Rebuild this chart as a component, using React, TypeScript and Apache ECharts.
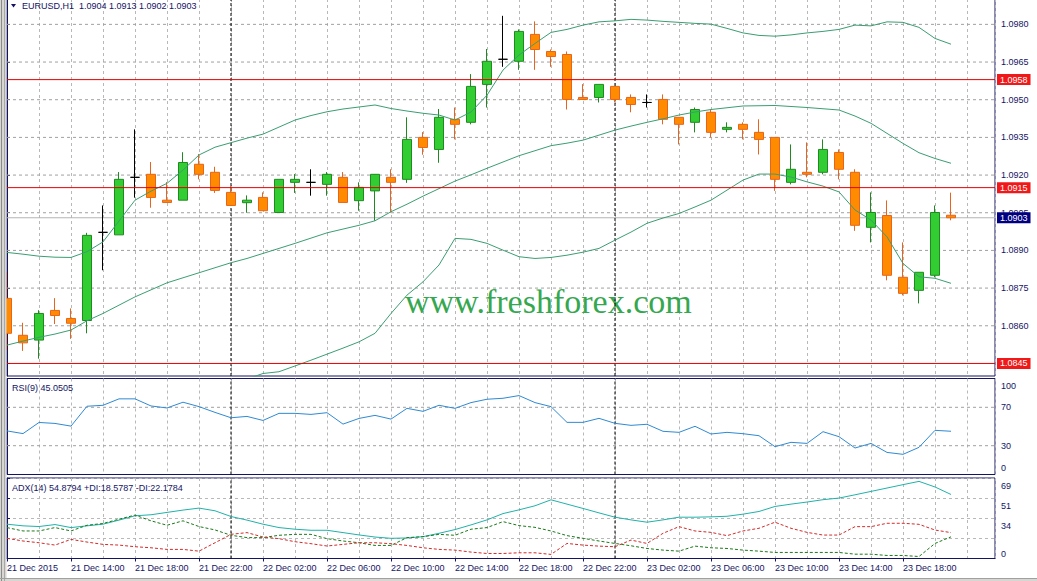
import React, { useEffect, useRef } from 'react';
import * as echarts from 'echarts';

// ---------- data ----------
const symbolName = 'EURUSD,H1';
const timeLabels = [
  '21 Dec 2015', '21 Dec 14:00', '21 Dec 18:00', '21 Dec 22:00', '22 Dec 02:00',
  '22 Dec 06:00', '22 Dec 10:00', '22 Dec 14:00', '22 Dec 18:00', '22 Dec 22:00',
  '23 Dec 02:00', '23 Dec 06:00', '23 Dec 10:00', '23 Dec 14:00', '23 Dec 18:00',
];
const BARS_PER_LABEL = 4;

const opens = [
  1.08709, 1.08562, 1.08543, 1.08661, 1.08629, 1.08621, 1.08972, 1.08962, 1.09191, 1.09203,
  1.09100, 1.09100, 1.09243, 1.09211, 1.09131, 1.09090, 1.09111, 1.09051, 1.09171, 1.09171,
  1.09163, 1.09191, 1.09098, 1.09137, 1.09191, 1.09183, 1.09350, 1.09302, 1.09422, 1.09410,
  1.09561, 1.09661, 1.09653, 1.09760, 1.09692, 1.09680, 1.09509, 1.09509, 1.09553, 1.09509,
  1.09489, 1.09501, 1.09430, 1.09410, 1.09450, 1.09382, 1.09402, 1.09370, 1.09350, 1.09171,
  1.09211, 1.09211, 1.09290, 1.09211, 1.08992, 1.09039, 1.08793, 1.08741, 1.08801, 1.0904,
];
const closes = [
  1.08570, 1.08532, 1.08649, 1.08641, 1.08610, 1.08960, 1.08972, 1.09183, 1.09191, 1.09111,
  1.09091, 1.09250, 1.09203, 1.09139, 1.09079, 1.09100, 1.09058, 1.09183, 1.09183, 1.09171,
  1.09203, 1.09091, 1.09151, 1.09203, 1.09171, 1.09342, 1.09310, 1.09430, 1.09402, 1.09553,
  1.09653, 1.09661, 1.09772, 1.09700, 1.09672, 1.09501, 1.09501, 1.09561, 1.09501, 1.09481,
  1.09489, 1.09422, 1.09402, 1.09461, 1.09370, 1.09390, 1.09382, 1.09342, 1.09183, 1.09223,
  1.09203, 1.09302, 1.09223, 1.09000, 1.09051, 1.08801, 1.08729, 1.08813, 1.09051, 1.0903,
];
const lows = [
  1.08503, 1.08500, 1.08469, 1.08607, 1.08548, 1.08570, 1.08821, 1.08962, 1.09110, 1.09070,
  1.09091, 1.09100, 1.09183, 1.09129, 1.09079, 1.09050, 1.09058, 1.09051, 1.09129, 1.09118,
  1.09118, 1.09091, 1.09058, 1.09018, 1.09051, 1.09169, 1.09281, 1.09249, 1.09342, 1.09402,
  1.09469, 1.09631, 1.09619, 1.09619, 1.09631, 1.09461, 1.09501, 1.09489, 1.09489, 1.09450,
  1.09469, 1.09402, 1.09322, 1.09370, 1.09350, 1.09370, 1.09342, 1.09282, 1.09137, 1.09163,
  1.09191, 1.09203, 1.09183, 1.08978, 1.08932, 1.08781, 1.08721, 1.08689, 1.08793, 1.0902,
];
const highs = [
  1.08813, 1.08612, 1.08662, 1.08710, 1.08669, 1.08970, 1.09079, 1.09212, 1.09382, 1.09252,
  1.09172, 1.09291, 1.09284, 1.09233, 1.09156, 1.09119, 1.09131, 1.09183, 1.09204, 1.09223,
  1.09212, 1.09212, 1.09171, 1.09203, 1.09223, 1.09430, 1.09371, 1.09463, 1.09469, 1.09602,
  1.09702, 1.09834, 1.09780, 1.09812, 1.09700, 1.09692, 1.09562, 1.09561, 1.09553, 1.09521,
  1.09521, 1.09521, 1.09430, 1.09469, 1.09461, 1.09410, 1.09410, 1.09422, 1.09350, 1.09322,
  1.09330, 1.09342, 1.09302, 1.09223, 1.09131, 1.09099, 1.08932, 1.08813, 1.09079, 1.0913,
];

const bbUpper = [
  1.08892, 1.08885, 1.08877, 1.08873, 1.08872, 1.08895, 1.08934, 1.09017, 1.09100, 1.09136,
  1.09167, 1.09220, 1.09280, 1.09311, 1.09329, 1.09347, 1.09363, 1.09391, 1.09419, 1.09437,
  1.09452, 1.09463, 1.09471, 1.09479, 1.09465, 1.09455, 1.09446, 1.09439, 1.09419, 1.09451,
  1.09518, 1.09618, 1.09678, 1.09724, 1.09768, 1.09780, 1.09797, 1.09810, 1.09814, 1.09820,
  1.09817, 1.09812, 1.09808, 1.09804, 1.09801, 1.09784, 1.09766, 1.09756, 1.09753, 1.09758,
  1.09766, 1.09772, 1.09780, 1.09797, 1.09794, 1.09810, 1.09808, 1.09788, 1.09744, 1.09721,
];
const bbMiddle = [
  1.08523, 1.08539, 1.08554, 1.08567, 1.08583, 1.08620, 1.08649, 1.08682, 1.08715, 1.08743,
  1.08771, 1.08791, 1.08811, 1.08831, 1.08851, 1.08868, 1.08888, 1.08908, 1.08928, 1.08949,
  1.08970, 1.08985, 1.09000, 1.09018, 1.09054, 1.09084, 1.09116, 1.09146, 1.09176, 1.09201,
  1.09227, 1.09252, 1.09277, 1.09297, 1.09317, 1.09327, 1.09339, 1.09359, 1.09379, 1.09395,
  1.09410, 1.09424, 1.09439, 1.09451, 1.09461, 1.09468, 1.09475, 1.09476, 1.09477, 1.09473,
  1.09469, 1.09464, 1.09459, 1.09435, 1.09406, 1.09366, 1.09326, 1.09289, 1.09266, 1.09247,
];
const bbLower = [
  1.08154, 1.08193, 1.08230, 1.08260, 1.08294, 1.08344, 1.08364, 1.08348, 1.08331, 1.08350,
  1.08376, 1.08362, 1.08342, 1.08350, 1.08373, 1.08388, 1.08410, 1.08417, 1.08440, 1.08463,
  1.08487, 1.08511, 1.08536, 1.08570, 1.08649, 1.08722, 1.08775, 1.08842, 1.08948, 1.08944,
  1.08928, 1.08901, 1.08875, 1.08868, 1.08872, 1.08881, 1.08893, 1.08908, 1.08941, 1.08973,
  1.09008, 1.09029, 1.09047, 1.09073, 1.09100, 1.09140, 1.09180, 1.09204, 1.09204, 1.09192,
  1.09173, 1.09156, 1.09133, 1.09061, 1.09021, 1.08954, 1.08848, 1.08795, 1.08789, 1.08769,
];

const rsi = [
  45.4, 42.6, 54.2, 53.2, 50.4, 71.1, 72.1, 78.8, 78.8, 71.4,
  69.3, 75.3, 70.7, 64.7, 59.1, 60.5, 56.3, 63.7, 63.7, 62.6,
  64.4, 52.5, 58.4, 61.6, 57.7, 68.9, 65.8, 72.1, 68.9, 74.9,
  78.4, 79.4, 82.2, 74.9, 70.7, 54.3, 54.3, 58.5, 53.3, 51.2,
  52.3, 45.0, 43.9, 50.2, 42.2, 43.9, 42.5, 40.4, 29.0, 33.5,
  32.4, 44.6, 39.4, 27.6, 32.4, 23.0, 21.0, 28.3, 46.0, 45.0505,
];
const adx = [
  29.4, 28.0, 27.4, 29.1, 26.5, 28.0, 29.4, 32.9, 36.6, 37.5,
  39.5, 41.5, 43.2, 40.9, 36.0, 32.9, 29.4, 26.5, 25.1, 24.2,
  24.2, 22.2, 20.2, 18.4, 17.3, 17.6, 18.7, 21.6, 24.8, 28.8,
  33.1, 38.5, 41.7, 45.2, 50.3, 46.6, 42.9, 39.1, 35.4, 33.1,
  31.1, 33.1, 35.4, 35.4, 35.7, 36.2, 38.0, 40.3, 44.6, 46.6,
  48.4, 50.4, 51.8, 54.6, 57.5, 60.4, 63.3, 66.1, 61.3, 54.8794,
];
const plusDI = [
  26.5, 23.6, 23.6, 26.5, 23.6, 28.5, 30.0, 33.7, 37.2, 32.3,
  28.5, 32.3, 27.4, 24.5, 19.9, 17.9, 17.9, 19.9, 20.7, 20.7,
  17.0, 15.0, 13.5, 11.2, 11.2, 17.9, 18.7, 20.7, 19.9, 25.1,
  26.5, 31.6, 28.2, 26.7, 23.6, 19.6, 17.3, 15.0, 12.9, 10.9,
  8.6, 7.2, 6.3, 10.6, 9.2, 8.6, 7.2, 6.3, 5.2, 5.2,
  5.2, 5.2, 5.2, 3.7, 3.7, 2.6, 2.6, 1.7, 12.9, 18.5787,
];
const minusDI = [
  17.3, 15.0, 13.5, 11.5, 16.4, 14.1, 12.1, 11.5, 10.1, 9.2,
  7.8, 7.8, 6.3, 13.5, 20.7, 22.2, 18.4, 17.0, 14.4, 12.7,
  10.7, 12.1, 13.5, 13.5, 12.7, 11.2, 9.2, 7.8, 7.2, 5.5,
  4.3, 4.3, 4.9, 4.9, 3.5, 12.9, 11.5, 10.6, 10.1, 15.8,
  12.9, 21.6, 27.3, 23.6, 22.4, 19.6, 23.6, 25.9, 31.1, 25.9,
  22.4, 20.1, 20.1, 27.3, 27.3, 30.2, 30.2, 29.3, 24.4, 22.1784,
];

const priceTicks = [1.0845, 1.0860, 1.0875, 1.0890, 1.0905, 1.0920, 1.0935, 1.0950, 1.0965, 1.0980];
const priceGridLines = [1.0860, 1.0875, 1.0890, 1.0905, 1.0920, 1.0935, 1.0950, 1.0965, 1.0980];
const levelLines = [1.0958, 1.0915, 1.0845];
const bidPrice = 1.0903;
const PRICE_MIN = 1.0840;
const PRICE_MAX = 1.09901;
const rsiTicks = [0, 30, 70, 100];
const rsiLevels = [30, 70];
const adxTickLabels = ['0', '17', '34', '51', '69'];
const ADX_MAX = 69;
const daySeparators = [14, 38];

// ---------- styles ----------
const NAVY = '#141464';
const GRID_COLOR = '#b8b8b8';
const HGRID_COLOR = '#a0a0a0';
const SEP_COLOR = '#000000';
const LEVEL_COLOR = '#e40000';
const FONT = '"Liberation Sans", Arial, sans-serif';
const X_MAX = 61.75;
const LEFT = 7;
const RIGHT = 42;

const fmt4 = (v: number) => v.toFixed(4);

function App() {
  const ref = useRef<HTMLDivElement>(null);

  useEffect(() => {
    if (!ref.current) return;
    const chart = echarts.init(ref.current, null, { renderer: 'svg' });

    const candleData = opens.map((o, i) => [i, o, closes[i], lows[i], highs[i]]);
    const toXY = (arr: number[]) => arr.map((v, i) => [i, v]);

    const xGridAxis = (gridIndex: number) => ({
      type: 'value',
      gridIndex,
      min: 0,
      max: X_MAX,
      interval: 2,
      position: 'bottom',
      axisLine: { show: false },
      axisTick: { show: false },
      axisLabel: { show: false },
      splitLine: { show: true, lineStyle: { color: GRID_COLOR, type: [3, 3], width: 1 } },
    });

    const axisText = { fontSize: 9, color: NAVY, fontFamily: FONT };

    // horizontal reference line drawn as a 2-point line series spanning the x range
    const hLine = (name: string, gi: number, v: number, color: string, type: any, z: number, labelBg?: string) => ({
      name,
      type: 'line',
      xAxisIndex: gi,
      yAxisIndex: gi,
      data: [[0, v], [X_MAX, v]],
      symbol: 'none',
      silent: true,
      z,
      lineStyle: { color, type, width: 1 },
      emphasis: { disabled: true },
      endLabel: labelBg
        ? {
            show: true,
            formatter: () => fmt4(v),
            backgroundColor: labelBg,
            color: '#ffffff',
            padding: [1, 3, 1, 3],
            distance: 2,
            fontSize: 9,
            fontFamily: FONT,
          }
        : { show: false },
    });
    // vertical day separator drawn as a 2-point line series spanning the y range
    const vLine = (name: string, gi: number, x: number, y0: number, y1: number) => ({
      name,
      type: 'line',
      xAxisIndex: gi,
      yAxisIndex: gi,
      data: [[x, y0], [x, y1]],
      symbol: 'none',
      silent: true,
      z: 1,
      lineStyle: { color: SEP_COLOR, type: [3, 2], width: 1 },
      emphasis: { disabled: true },
    });

    const labelTickValues = timeLabels.map((_, k) => k * BARS_PER_LABEL);

    const last = opens.length - 1;
    const titleMain = `${symbolName}\u00a0\u00a0${fmt4(opens[last])} ${fmt4(highs[last])} ${fmt4(lows[last])} ${fmt4(closes[last])}`;
    const titleRsi = `RSI(9) ${rsi[last].toFixed(4)}`;
    const titleAdx = `ADX(14) ${adx[last].toFixed(4)} +DI:${plusDI[last].toFixed(4)} -DI:${minusDI[last].toFixed(4)}`;

    const lineSeries = (name: string, gi: number, arr: number[], color: string, type: any = 'solid') => ({
      name,
      type: 'line',
      xAxisIndex: gi,
      yAxisIndex: gi,
      data: toXY(arr),
      symbol: 'none',
      silent: true,
      z: 3,
      lineStyle: { color, width: 1, type },
      emphasis: { disabled: true },
    });

    const option: any = {
      animation: false,
      backgroundColor: '#ffffff',
      textStyle: { fontFamily: FONT },
      grid: [
        { left: LEFT, right: RIGHT, top: -1, height: 377, show: true, borderColor: NAVY, borderWidth: 1, backgroundColor: 'transparent', outerBoundsMode: 'none', containLabel: false },
        { left: LEFT, right: RIGHT, top: 378.5, height: 96, show: true, borderColor: NAVY, borderWidth: 1, backgroundColor: 'transparent', outerBoundsMode: 'none', containLabel: false },
        { left: LEFT, right: RIGHT, top: 478, height: 80.5, show: true, borderColor: NAVY, borderWidth: 1, backgroundColor: 'transparent', outerBoundsMode: 'none', containLabel: false },
      ],
      xAxis: [
        xGridAxis(0),
        xGridAxis(1),
        xGridAxis(2),
        {
          type: 'value',
          gridIndex: 2,
          min: 0,
          max: X_MAX,
          interval: BARS_PER_LABEL,
          position: 'bottom',
          axisLine: { show: true, lineStyle: { color: NAVY, width: 1 } },
          axisTick: { show: true, length: 3, customValues: labelTickValues, lineStyle: { color: NAVY } },
          axisLabel: {
            show: true,
            customValues: labelTickValues,
            align: 'left',
            margin: 5,
            ...axisText,
            formatter: (v: number) => {
              const k = Math.round(v / BARS_PER_LABEL);
              return Math.abs(v - k * BARS_PER_LABEL) < 1e-6 && k < timeLabels.length ? timeLabels[k] : '';
            },
          },
          splitLine: { show: false },
        },
      ],
      yAxis: [
        {
          type: 'value',
          gridIndex: 0,
          position: 'right',
          min: PRICE_MIN,
          max: PRICE_MAX,
          axisLine: { show: true, lineStyle: { color: NAVY } },
          axisTick: { show: true, length: 3, customValues: priceTicks, lineStyle: { color: NAVY } },
          axisLabel: { show: true, customValues: priceTicks, margin: 6, ...axisText, formatter: (v: number) => fmt4(v) },
          splitLine: { show: false },
        },
        {
          type: 'value',
          gridIndex: 1,
          position: 'right',
          min: 0,
          max: 100,
          axisLine: { show: true, lineStyle: { color: NAVY } },
          axisTick: { show: true, length: 3, customValues: rsiTicks, lineStyle: { color: NAVY } },
          axisLabel: {
            show: true,
            customValues: rsiTicks,
            margin: 6,
            showMinLabel: true,
            showMaxLabel: true,
            hideOverlap: false,
            ...axisText,
            formatter: (v: number) => {
              if (v >= 100) return `{d|${v}}`;
              if (v <= 0) return `{u|${v}}`;
              return `{m|${v}}`;
            },
            rich: {
              d: { ...axisText, padding: [15, 0, 0, 0] },
              u: { ...axisText, padding: [0, 0, 13, 0] },
              m: { ...axisText },
            },
          },
          splitLine: { show: false },
        },
        {
          type: 'value',
          gridIndex: 2,
          position: 'right',
          min: 0,
          max: ADX_MAX,
          interval: ADX_MAX / (adxTickLabels.length - 1),
          axisLine: { show: true, lineStyle: { color: NAVY } },
          axisTick: { show: true, length: 3, lineStyle: { color: NAVY } },
          axisLabel: {
            show: true,
            margin: 6,
            showMinLabel: true,
            showMaxLabel: true,
            hideOverlap: false,
            ...axisText,
            formatter: (v: number) => {
              const k = Math.round(v / (ADX_MAX / (adxTickLabels.length - 1)));
              const t = adxTickLabels[k] ?? '';
              return k === 0 ? `{u|${t}}` : `{d|${t}}`;
            },
            rich: {
              d: { ...axisText, padding: [16, 0, 0, 0] },
              u: { ...axisText, padding: [0, 0, 9, 0] },
            },
          },
          splitLine: { show: true, lineStyle: { color: GRID_COLOR, type: [3, 3], width: 1 } },
        },
      ],
      series: [
        ...priceGridLines.map((p, k) => hLine(`grid ${k}`, 0, p, HGRID_COLOR, [3, 3], 1)),
        ...rsiLevels.map((v, k) => hLine(`rsi level ${k}`, 1, v, HGRID_COLOR, [3, 3], 1)),
        hLine('bid', 0, bidPrice, '#b4b4b4', 'solid', 1, '#000080'),
        ...daySeparators.map((x, k) => vLine(`sep main ${k}`, 0, x, PRICE_MIN, PRICE_MAX)),
        ...daySeparators.map((x, k) => vLine(`sep rsi ${k}`, 1, x, 0, 100)),
        ...daySeparators.map((x, k) => vLine(`sep adx ${k}`, 2, x, 0, ADX_MAX)),
        {
          name: 'EURUSD',
          type: 'candlestick',
          xAxisIndex: 0,
          yAxisIndex: 0,
          data: candleData,
          barWidth: 9,
          z: 2,
          clip: true,
          silent: true,
          itemStyle: {
            color: '#32cd32',
            color0: '#ff8c00',
            borderColor: '#1f8a1f',
            borderColor0: '#e8641a',
            borderColorDoji: '#000000',
            borderWidth: 1,
          },
        },
        lineSeries('BB upper', 0, bbUpper, '#3a9e72'),
        lineSeries('BB middle', 0, bbMiddle, '#3a9e72'),
        lineSeries('BB lower', 0, bbLower, '#3a9e72'),
        ...levelLines.map((p, k) => hLine(`level ${k}`, 0, p, LEVEL_COLOR, 'solid', 4, '#f01818')),
        lineSeries('RSI', 1, rsi, '#2f8ad4'),
        lineSeries('ADX', 2, adx, '#20b2aa'),
        lineSeries('+DI', 2, plusDI, '#1a7a1a', [3, 2]),
        lineSeries('-DI', 2, minusDI, '#d42a2a', [3, 2]),
      ],
      graphic: [
        { type: 'rect', z: 100, shape: { x: 0, y: 0, width: 6.5, height: 581 }, style: { fill: '#d8d6d2' }, silent: true },
        { type: 'line', z: 101, shape: { x1: 1.5, y1: 0, x2: 1.5, y2: 581 }, style: { stroke: '#8a8a8a', lineWidth: 1 }, silent: true },
        { type: 'line', z: 101, shape: { x1: 4.5, y1: 0, x2: 4.5, y2: 581 }, style: { stroke: '#a8a8a8', lineWidth: 1 }, silent: true },
        { type: 'rect', z: 100, shape: { x: 0, y: 578, width: 1037, height: 3 }, style: { fill: '#d8d6d2' }, silent: true },
        { type: 'line', z: 101, shape: { x1: 0, y1: 578.5, x2: 1037, y2: 578.5 }, style: { stroke: '#a0a0a0', lineWidth: 1 }, silent: true },
        {
          type: 'polygon',
          z: 10,
          shape: { points: [[11, 4], [16, 4], [13.5, 7.5]] },
          style: { fill: NAVY },
          silent: true,
        },
        {
          type: 'text',
          z: 10,
          x: 22,
          y: 6,
          style: { text: titleMain, fontSize: 9, fontFamily: FONT, fill: NAVY, verticalAlign: 'middle', align: 'left' },
          silent: true,
        },
        {
          type: 'text',
          z: 10,
          x: 12,
          y: 388,
          style: { text: titleRsi, fontSize: 9, fontFamily: FONT, fill: NAVY, verticalAlign: 'middle', align: 'left' },
          silent: true,
        },
        {
          type: 'text',
          z: 10,
          x: 12,
          y: 487.5,
          style: { text: titleAdx, fontSize: 9, fontFamily: FONT, fill: NAVY, verticalAlign: 'middle', align: 'left' },
          silent: true,
        },
        {
          type: 'text',
          z: 1,
          x: 405,
          y: 301,
          style: {
            text: 'www.freshforex.com',
            fontSize: 34,
            fontFamily: '"Liberation Serif", "Times New Roman", serif',
            fill: '#35a84f',
            verticalAlign: 'middle',
            align: 'left',
          },
          silent: true,
        },
      ],
    };

    chart.setOption(option);
    return () => {
      chart.dispose();
    };
  }, []);

  return (
    <div
      ref={ref}
      style={{ position: 'absolute', left: 0, top: 0, width: 1037, height: 581, background: '#ffffff' }}
    />
  );
}

export default App;
